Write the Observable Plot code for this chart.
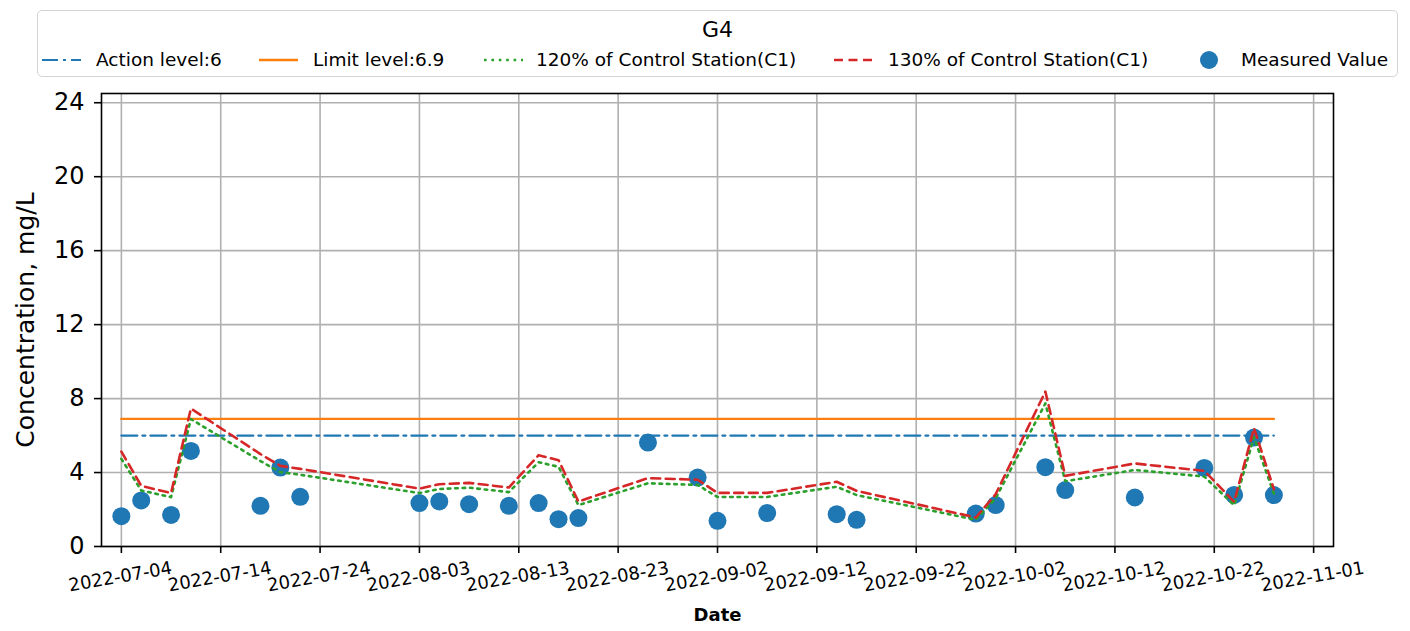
<!DOCTYPE html>
<html>
<head>
<meta charset="utf-8">
<script src="https://cdn.jsdelivr.net/npm/d3@7"></script>
<script src="https://cdn.jsdelivr.net/npm/@observablehq/plot@0.6"></script>
<style>
  body { margin: 0; background: #fff; font-family: "DejaVu Sans", sans-serif; }
  #legend { position: relative; width: 1410px; height: 88px; }
  #legend .box { position: absolute; left: 37px; top: 10px; width: 1359px; height: 65px;
    border: 1.5px solid #d4d4d4; border-radius: 5px; }
  #legend .title { position: absolute; left: 37px; width: 1361px; top: 18px; text-align: center;
    font-size: 22px; line-height: 24px; color: #000; }
  #legend .lab { position: absolute; top: 49px; font-size: 18.5px; line-height: 22px; color: #000; white-space: nowrap; }
  #legend svg { position: absolute; top: 50px; }
</style>
</head>
<body>
<div id="legend"></div>
<div id="chart"></div>
<script>
// ---------------- data ----------------
const chartTitle = "G4";
const sampleDates = ["2022-07-04","2022-07-06","2022-07-09","2022-07-11","2022-07-18","2022-07-20","2022-07-22",
  "2022-08-03","2022-08-05","2022-08-08","2022-08-12","2022-08-15","2022-08-17","2022-08-19","2022-08-26",
  "2022-08-31","2022-09-02","2022-09-07","2022-09-14","2022-09-16","2022-09-28","2022-09-30","2022-10-05",
  "2022-10-07","2022-10-14","2022-10-21","2022-10-24","2022-10-26","2022-10-28"];
const measuredValue = [1.64,2.49,1.71,5.17,2.20,4.27,2.69,
  2.35,2.44,2.29,2.20,2.35,1.48,1.54,5.62,
  3.73,1.39,1.81,1.75,1.44,1.78,2.24,4.29,
  3.05,2.65,4.25,2.79,5.89,2.78];
const pct120Control = [4.74,3.03,2.67,6.89,4.62,4.02,3.88,
  2.89,3.11,3.18,2.94,4.56,4.31,2.24,3.42,
  3.33,2.68,2.68,3.23,2.78,1.45,2.61,7.74,
  3.53,4.14,3.78,2.23,5.91,2.86];
const pct130Control = [5.13,3.28,2.89,7.46,5.00,4.36,4.20,
  3.13,3.37,3.44,3.19,4.94,4.67,2.43,3.70,
  3.61,2.90,2.90,3.50,3.01,1.57,2.83,8.38,
  3.82,4.49,4.09,2.42,6.40,3.10];
const actionLevel = 6;
const limitLevel = 6.9;
const seriesLabels = ["Action level:6","Limit level:6.9","120% of Control Station(C1)","130% of Control Station(C1)","Measured Value"];
const xTickLabels = ["2022-07-04","2022-07-14","2022-07-24","2022-08-03","2022-08-13","2022-08-23","2022-09-02",
  "2022-09-12","2022-09-22","2022-10-02","2022-10-12","2022-10-22","2022-11-01"];
const yTicks = [0,4,8,12,16,20,24];
const xDomain = ["2022-07-02","2022-11-03"];
const yDomain = [0, 24.5];
const xLabel = "Date";
const yLabel = "Concentration, mg/L";

// ---------------- build ----------------
const toDate = s => new Date(s + "T00:00:00Z");
const rows = sampleDates.map((d, i) => ({date: toDate(d), m: measuredValue[i], g: pct120Control[i], r: pct130Control[i]}));
const ends = [rows[0].date, rows[rows.length - 1].date];
const actionRows = ends.map(d => ({date: d, v: actionLevel}));
const limitRows = ends.map(d => ({date: d, v: limitLevel}));
const xTicks = xTickLabels.map(toDate);

const C = {blue: "#1f77b4", orange: "#ff7f0e", green: "#2ca02c", red: "#d62728", grid: "#b0b0b0"};
const styles = [
  {stroke: C.blue, dash: "16,5,3,5", w: 2.2},
  {stroke: C.orange, dash: null, w: 2.4},
  {stroke: C.green, dash: "2.6,4.8", w: 2.6},
  {stroke: C.red, dash: "9,5.5", w: 2.6},
  {dot: C.blue}
];

// legend (HTML, above the SVG)
const leg = document.getElementById("legend");
leg.innerHTML = `<div class="box"></div><div class="title">${chartTitle}</div>`;
const swX = [42, 259, 484, 834, 1199];
const txX = [96, 313, 536, 888, 1241];
seriesLabels.forEach((lab, i) => {
  const st = styles[i];
  const svg = document.createElementNS("http://www.w3.org/2000/svg", "svg");
  svg.setAttribute("width", 40); svg.setAttribute("height", 20);
  svg.style.left = swX[i] + "px";
  if (st.dot) {
    svg.innerHTML = `<circle cx="10" cy="10" r="9" fill="${st.dot}"/>`;
  } else {
    svg.innerHTML = `<line x1="0" x2="39" y1="10" y2="10" stroke="${st.stroke}" stroke-width="${st.w}" ${st.dash ? `stroke-dasharray="${st.dash}"` : ""}/>`;
  }
  leg.appendChild(svg);
  const t = document.createElement("div");
  t.className = "lab"; t.textContent = lab; t.style.left = txX[i] + "px";
  leg.appendChild(t);
});

const chart = Plot.plot({
  width: 1410, height: 543,
  marginTop: 5, marginBottom: 85, marginLeft: 101, marginRight: 77,
  style: {fontFamily: "DejaVu Sans", background: "#fff", color: "#000"},
  x: {type: "utc", domain: xDomain.map(toDate)},
  y: {domain: yDomain},
  marks: [
    Plot.gridX(xTicks, {stroke: C.grid, strokeOpacity: 1, strokeWidth: 1.6}),
    Plot.gridY(yTicks, {stroke: C.grid, strokeOpacity: 1, strokeWidth: 1.6}),
    Plot.dot(rows, {x: "date", y: "m", r: 9, fill: C.blue, stroke: "none"}),
    Plot.line(actionRows, {x: "date", y: "v", stroke: styles[0].stroke, strokeWidth: styles[0].w, strokeDasharray: styles[0].dash}),
    Plot.line(limitRows, {x: "date", y: "v", stroke: styles[1].stroke, strokeWidth: styles[1].w}),
    Plot.line(rows, {x: "date", y: "g", stroke: styles[2].stroke, strokeWidth: styles[2].w, strokeDasharray: styles[2].dash}),
    Plot.line(rows, {x: "date", y: "r", stroke: styles[3].stroke, strokeWidth: styles[3].w, strokeDasharray: styles[3].dash}),
    Plot.frame({stroke: "#000", strokeWidth: 1.6}),
    Plot.axisX(xTicks, {tickSize: 7, tickFormat: () => "", label: null, stroke: "#000", strokeWidth: 1.6}),
    Plot.text(xTickLabels, {x: d => toDate(d), text: d => d, frameAnchor: "bottom", textAnchor: "middle", dy: 36, rotate: -10, fontSize: 18, fill: "#000"}),
    Plot.axisY(yTicks, {tickSize: 7, tickPadding: 10, fontSize: 24, label: null, stroke: "#000", strokeWidth: 1.6, fill: "#000"}),
    Plot.text([yLabel], {text: d => d, frameAnchor: "left", textAnchor: "middle", rotate: -90, dx: -76, fontSize: 25, fill: "#000"}),
    Plot.text([xLabel], {text: d => d, frameAnchor: "bottom", dy: 74, fontSize: 18, fontWeight: "bold", fill: "#000"})
  ]
});
document.getElementById("chart").appendChild(chart);
</script>
</body>
</html>
